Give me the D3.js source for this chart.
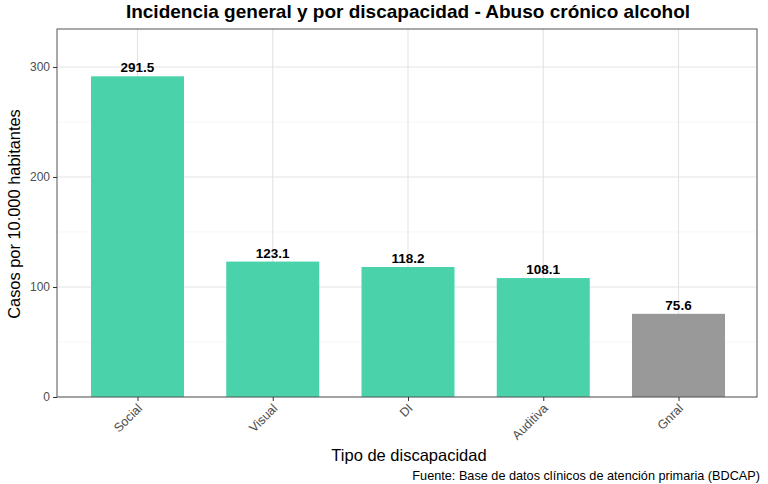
<!DOCTYPE html>
<html><head><meta charset="utf-8">
<script src="https://cdn.jsdelivr.net/npm/d3@7"></script>
<style>body{margin:0;background:#fff}svg{font-family:"Liberation Sans",Arial,sans-serif}</style>
</head><body><svg id="c" width="768" height="484"></svg>
<script>
const categories = ["Social","Visual","DI","Auditiva","Gnral"];
const values = [291.5,123.1,118.2,108.1,75.6];
const colors = ["#4ad3aa","#4ad3aa","#4ad3aa","#4ad3aa","#999999"];
const yTicks = [0,100,200,300];
const yMinor = [50,150,250];

const svg = d3.select("#c");
const L=57, R=757, T=29, B=397;
const x = d3.scalePoint().domain(categories).range([137.5, 678.5]);
const bw = 93;
const y = d3.scaleLinear().domain([0,334.5]).range([B,T]);

// grid
svg.append("g").selectAll("line.mi").data(yMinor).join("line")
  .attr("x1",L).attr("x2",R).attr("y1",d=>y(d)).attr("y2",d=>y(d)).attr("stroke","#f0f0f0").attr("stroke-width",0.6);
svg.append("g").selectAll("line.ma").data(yTicks).join("line")
  .attr("x1",L).attr("x2",R).attr("y1",d=>y(d)).attr("y2",d=>y(d)).attr("stroke","#e3e3e3").attr("stroke-width",1.1);
svg.append("g").selectAll("line.v").data(categories).join("line")
  .attr("x1",d=>x(d)).attr("x2",d=>x(d)).attr("y1",T).attr("y2",B).attr("stroke","#e3e3e3").attr("stroke-width",1.1);

// bars
svg.append("g").selectAll("rect").data(categories).join("rect")
  .attr("x",d=>x(d)-bw/2).attr("width",bw)
  .attr("y",(d,i)=>y(values[i])).attr("height",(d,i)=>B-y(values[i]))
  .attr("fill",(d,i)=>colors[i]);
svg.append("g").selectAll("text").data(categories).join("text")
  .attr("x",d=>x(d)).attr("y",(d,i)=>y(values[i])-4)
  .attr("text-anchor","middle").attr("font-weight","bold").attr("font-size",13.5).attr("fill","#000")
  .text((d,i)=>values[i].toFixed(1));

// border
svg.append("rect").attr("x",L).attr("y",T).attr("width",R-L).attr("height",B-T).attr("fill","none").attr("stroke","#555").attr("stroke-width",1);

// axes
const ya = svg.append("g").attr("transform",`translate(${L},0)`).call(d3.axisLeft(y).tickValues(yTicks).tickSize(4).tickPadding(3));
ya.select(".domain").remove();
ya.selectAll("line").attr("stroke","#333");
ya.selectAll("text").attr("font-size",12).attr("fill","#4d4d4d").attr("font-family","Liberation Sans, Arial, sans-serif");

const xa = svg.append("g").attr("transform",`translate(0,${B})`).call(d3.axisBottom(x).tickSize(4));
xa.select(".domain").remove();
xa.selectAll("line").attr("stroke","#333");
xa.selectAll("text").attr("font-size",12.5).attr("fill","#4d4d4d").attr("font-family","Liberation Sans, Arial, sans-serif")
  .attr("text-anchor","end").attr("dy","0").attr("y",0).attr("x",0)
  .attr("transform","translate(5,12) rotate(-45)");

// titles
svg.append("text").attr("x",(L+R)/2+1).attr("y",18).attr("text-anchor","middle").attr("font-weight","bold").attr("font-size",19).attr("fill","#000")
  .text("Incidencia general y por discapacidad - Abuso crónico alcohol");
svg.append("text").attr("transform",`translate(20,${(T+B)/2+1}) rotate(-90)`).attr("text-anchor","middle").attr("font-size",16.4).attr("fill","#000")
  .text("Casos por 10.000 habitantes");
svg.append("text").attr("x",(L+R)/2+2).attr("y",461).attr("text-anchor","middle").attr("font-size",16.5).attr("fill","#000")
  .text("Tipo de discapacidad");
svg.append("text").attr("x",760).attr("y",480).attr("text-anchor","end").attr("font-size",12.7).attr("fill","#000")
  .text("Fuente: Base de datos clínicos de atención primaria (BDCAP)");
</script></body></html>
